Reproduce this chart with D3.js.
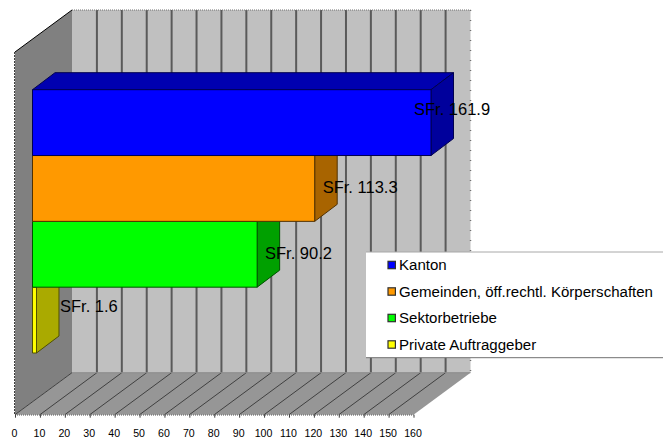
<!DOCTYPE html>
<html>
<head>
<meta charset="utf-8">
<script src="https://cdn.jsdelivr.net/npm/d3@7/dist/d3.min.js"></script>
<style>
  html, body { margin: 0; padding: 0; background: #fff; }
  svg { display: block; }
  text { font-family: "Liberation Sans", Arial, sans-serif; fill: #000; }
</style>
</head>
<body>
<svg id="chart" width="663" height="439"></svg>
<script>
// Contract volume by client, in SFr.
const clients = ["Kanton", "Gemeinden, öff.rechtl. Körperschaften", "Sektorbetriebe", "Private Auftraggeber"];
const amounts = [161.9, 113.3, 90.2, 1.6];
const axisTicks = d3.range(0, 161, 10);

const frontColors = ["#0000ff", "#ff9900", "#00ff00", "#ffff00"];
const topColors = ["#0000b0", "#b06a00", "#00b000", "#b0b000"];
const sideColors = ["#00009c", "#a86400", "#00a000", "#aaaa00"];
const edgeColors = ["#000050", "#503000", "#005000", "#505000"];

// Layout of the oblique box
const plot = { left: 15, right: 413.5, top: 52, bottom: 414.7 };
const wallDepth = { x: 57, y: 42 };
const barDepth = { x: 22.5, y: 17 };
const barInset = 17.5;

const svg = d3.select("#chart");

// The axis stops at 160, so the largest bar is cut off at the wall
const x = d3.scaleLinear().domain([0, 160]).range([plot.left, plot.right]).clamp(true);
const y = d3.scaleBand().domain(clients).range([89.7, 353]);

const pts = a => a.map(p => p.join(",")).join(" ");

// Left wall, back wall and floor
svg.append("polygon").attr("fill", "#808080").attr("points", pts([
  [plot.left, plot.top], [plot.left + wallDepth.x, plot.top - wallDepth.y],
  [plot.left + wallDepth.x, plot.bottom - wallDepth.y], [plot.left, plot.bottom]
]));
svg.append("polygon").attr("fill", "#c0c0c0").attr("points", pts([
  [plot.left + wallDepth.x, plot.top - wallDepth.y], [plot.right + wallDepth.x, plot.top - wallDepth.y],
  [plot.right + wallDepth.x, plot.bottom - wallDepth.y], [plot.left + wallDepth.x, plot.bottom - wallDepth.y]
]));
svg.append("polygon").attr("fill", "#969696").attr("points", pts([
  [plot.left, plot.bottom], [plot.right, plot.bottom],
  [plot.right + wallDepth.x, plot.bottom - wallDepth.y], [plot.left + wallDepth.x, plot.bottom - wallDepth.y]
]));

// Gridlines on the back wall and across the floor
const grid = svg.append("g");
grid.selectAll("line.wall").data(axisTicks.slice(1, -1)).join("line")
  .attr("class", "wall")
  .attr("x1", d => x(d) + wallDepth.x).attr("x2", d => x(d) + wallDepth.x)
  .attr("y1", plot.top - wallDepth.y).attr("y2", plot.bottom - wallDepth.y)
  .attr("stroke", "#5a5a5a").attr("stroke-width", 2);
grid.selectAll("line.floor").data(axisTicks.slice(0, -1)).join("line")
  .attr("class", "floor")
  .attr("x1", d => x(d)).attr("x2", d => x(d) + wallDepth.x)
  .attr("y1", plot.bottom).attr("y2", plot.bottom - wallDepth.y)
  .attr("stroke", "#404040").attr("stroke-width", 1);
grid.append("line")
  .attr("x1", plot.left + wallDepth.x).attr("x2", plot.right + wallDepth.x)
  .attr("y1", plot.bottom - wallDepth.y).attr("y2", plot.bottom - wallDepth.y)
  .attr("stroke", "#8a8a8a").attr("stroke-width", 1);

// Outer edges of the box
const edge = (x1, y1, x2, y2, dash, color, w) => svg.append("line")
  .attr("x1", x1).attr("y1", y1).attr("x2", x2).attr("y2", y2)
  .attr("stroke", color).attr("stroke-width", w).attr("stroke-dasharray", dash);
edge(plot.left, plot.top, plot.left + wallDepth.x, plot.top - wallDepth.y, null, "#000", 1);
edge(plot.left - 0.5, plot.top, plot.left - 0.5, plot.bottom, "2 1", "#404040", 1);
edge(plot.left + wallDepth.x, plot.top - wallDepth.y, plot.right + wallDepth.x, plot.top - wallDepth.y, "1 1", "#707070", 1);
edge(plot.right + wallDepth.x, plot.top - wallDepth.y, plot.right + wallDepth.x, plot.bottom - wallDepth.y, "1 9", "#707070", 1.5);
edge(plot.left, plot.bottom + 0.3, plot.right, plot.bottom + 0.3, "1 1", "#505050", 1);

// Bars, lowest first so that each upper bar covers the hidden faces below it
const bars = svg.append("g").selectAll("g")
  .data(clients.map((c, i) => ({ c, v: amounts[i], i })).reverse())
  .join("g")
  .attr("stroke", d => edgeColors[d.i]).attr("stroke-width", 1).attr("stroke-linejoin", "round");

const x0 = plot.left + barInset;
const right = d => x(d.v) + barInset;

bars.append("polygon").attr("fill", d => topColors[d.i]).attr("points", d => pts([
  [x0, y(d.c)], [x0 + barDepth.x, y(d.c) - barDepth.y],
  [right(d) + barDepth.x, y(d.c) - barDepth.y], [right(d), y(d.c)]
]));
bars.append("polygon").attr("fill", d => sideColors[d.i]).attr("points", d => pts([
  [right(d), y(d.c)], [right(d) + barDepth.x, y(d.c) - barDepth.y],
  [right(d) + barDepth.x, y(d.c) + y.bandwidth() - barDepth.y], [right(d), y(d.c) + y.bandwidth()]
]));
bars.append("rect").attr("fill", d => frontColors[d.i])
  .attr("x", x0).attr("y", d => y(d.c))
  .attr("width", d => right(d) - x0).attr("height", y.bandwidth());

// Value labels sit where the spreadsheet placed them, beside each bar's end
const labelAnchors = [[414, 109], [322.7, 187.7], [265, 253], [60, 306]];
svg.append("g").selectAll("text").data(amounts).join("text")
  .attr("x", (d, i) => labelAnchors[i][0])
  .attr("y", (d, i) => labelAnchors[i][1])
  .attr("dy", "0.35em")
  .attr("font-size", 16.5)
  .text(d => `SFr. ${d.toFixed(1)}`);

// Value axis below the floor
const axis = d3.axisBottom(x).tickValues(axisTicks).tickSize(3).tickPadding(12).tickFormat(d3.format("d"));
const axisG = svg.append("g").attr("transform", `translate(0,${plot.bottom})`).call(axis);
axisG.select(".domain").remove();
axisG.selectAll(".tick line").attr("stroke", "#404040");
axisG.selectAll(".tick text").attr("font-size", 10.6).attr("dx", -1)
  .style("font-family", '"Liberation Sans", Arial, sans-serif').attr("fill", "#000");

// Legend panel, running off the right-hand side
const legend = svg.append("g");
legend.append("rect").attr("x", 366).attr("y", 252).attr("width", 297).attr("height", 105.7).attr("fill", "#fff");
legend.append("line").attr("x1", 366).attr("x2", 663).attr("y1", 252).attr("y2", 252).attr("stroke", "#a8a8a8");
legend.append("line").attr("x1", 366).attr("x2", 663).attr("y1", 357.7).attr("y2", 357.7).attr("stroke", "#707070");

const legendY = d3.scalePoint().domain(clients).range([265, 344.5]);
const rows = legend.selectAll("g.row").data(clients).join("g").attr("class", "row")
  .attr("transform", d => `translate(0,${legendY(d)})`);
rows.append("rect").attr("x", 388).attr("y", -3.7).attr("width", 7.4).attr("height", 7.4)
  .attr("fill", (d, i) => frontColors[i]).attr("stroke", "#303030").attr("stroke-width", 1.2);
rows.append("text").attr("x", 399).attr("dy", "0.35em").attr("font-size", 15.05).text(d => d);
</script>
</body>
</html>
